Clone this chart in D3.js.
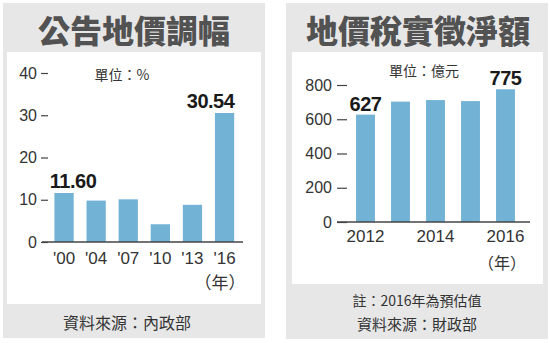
<!DOCTYPE html>
<html><head><meta charset="utf-8">
<script src="https://cdn.jsdelivr.net/npm/d3@7"></script>
<style>
html,body{margin:0;padding:0;background:#fff;}
svg{display:block;}
</style></head>
<body>
<script>
// ---- Left chart data ----
const leftTitle = "公告地價調幅";
const leftCategories = ["'00","'04","'07","'10","'13","'16"];
const leftValues = [11.60, 9.8, 10.1, 4.2, 8.8, 30.54];
const leftYTicks = [0, 10, 20, 30, 40];
const leftLabelled = ["11.60", null, null, null, null, "30.54"];
const leftUnit = "單位：%";
const leftSource = "資料來源：內政部";

// ---- Right chart data ----
const rightTitle = "地價稅實徵淨額";
const rightCategories = ["2012","2013","2014","2015","2016"];
const rightValues = [627, 703, 712, 706, 775];
const rightXTicks = ["2012","2014","2016"];
const rightYTicks = [0, 200, 400, 600, 800];
const rightLabelled = ["627", null, null, null, "775"];
const rightUnit = "單位：億元";
const rightNote = "註：2016年為預估值";
const rightSource = "資料來源：財政部";
const yearUnit = "（年）";

const W = 550, H = 343;
const BAR = "#72b2d4", PANEL = "#e7e7e7", TXT = "#333", TITLE = "#525252";
const CJK = "'Noto Sans CJK TC','Noto Sans CJK SC',sans-serif";
const NUM = "'Liberation Sans',Arial,sans-serif";

const svg = d3.select("body").append("svg").attr("width", W).attr("height", H);

function panel(x0, x1, yBottom, wx0, wx1, wy1) {
  svg.append("rect").attr("x", x0).attr("y", 3).attr("width", x1 - x0).attr("height", yBottom - 3).attr("fill", PANEL);
  svg.append("rect").attr("x", wx0).attr("y", 52).attr("width", wx1 - wx0).attr("height", wy1 - 52).attr("fill", "#fff");
}

// Panels
panel(3, 265, 338, 7, 261, 304);
panel(286, 548, 339, 292, 543, 284);

function title(text, cx) {
  svg.append("text").attr("x", cx).attr("y", 29).attr("text-anchor", "middle")
    .attr("dominant-baseline", "central")
    .style("font-family", CJK).style("font-weight", 900).style("font-size", "32px")
    .attr("fill", TITLE).text(text);
}
title(leftTitle, 134);
title(rightTitle, 418);

function cjkText(text, x, y, size, anchor) {
  svg.append("text").attr("x", x).attr("y", y).attr("text-anchor", anchor || "middle")
    .attr("dominant-baseline", "central")
    .style("font-family", CJK).style("font-size", size + "px").attr("fill", TXT).text(text);
}

// ---------- Left chart ----------
{
  const x = d3.scaleBand().domain(leftCategories).range([48, 240.6]).paddingInner(0.4).paddingOuter(0.2);
  const y = d3.scaleLinear().domain([0, 40]).range([242, 73]);
  const g = svg.append("g");
  g.selectAll("rect.bar").data(leftValues).join("rect").attr("class", "bar")
    .attr("x", (d, i) => x(leftCategories[i])).attr("width", x.bandwidth())
    .attr("y", d => y(d)).attr("height", d => y(0) - y(d)).attr("fill", BAR);
  g.append("line").attr("x1", 42).attr("x2", 243).attr("y1", y(0)).attr("y2", y(0))
    .attr("stroke", "#444").attr("stroke-width", 1.6);
  const ya = g.append("g").attr("transform", "translate(48,0)")
    .call(d3.axisLeft(y).tickValues(leftYTicks).tickSize(7).tickPadding(4));
  ya.select(".domain").remove();
  ya.selectAll("line").attr("stroke", "#444").attr("stroke-width", 1.2);
  ya.selectAll("text").style("font-family", NUM).style("font-size", "16px").attr("fill", TXT);
  const xa = g.append("g").attr("transform", "translate(0," + y(0) + ")")
    .call(d3.axisBottom(x).tickSize(0).tickPadding(10));
  xa.select(".domain").remove();
  xa.selectAll("text").style("font-family", NUM).style("font-size", "17px").attr("fill", TXT);
  const dxs = [9, 0, 0, 0, 0, -14];
  leftLabelled.forEach((lab, i) => {
    if (!lab) return;
    g.append("text").attr("x", x(leftCategories[i]) + x.bandwidth() / 2 + dxs[i])
      .attr("y", y(leftValues[i]) - 5).attr("text-anchor", "middle")
      .style("font-family", NUM).style("font-weight", "bold").style("font-size", "20px")
      .style("letter-spacing", "-0.5px").attr("fill", "#1a1a1a").text(lab);
  });
  cjkText(leftUnit, 122, 74, 14);
  cjkText(yearUnit, 220, 281, 17);
  cjkText(leftSource, 127, 322, 16);
}

// ---------- Right chart ----------
{
  const x = d3.scaleBand().domain(rightCategories).range([348, 523]).paddingInner(0.46).paddingOuter(0.23);
  const y = d3.scaleLinear().domain([0, 800]).range([222, 85]);
  const g = svg.append("g");
  g.selectAll("rect.bar").data(rightValues).join("rect").attr("class", "bar")
    .attr("x", (d, i) => x(rightCategories[i])).attr("width", x.bandwidth())
    .attr("y", d => y(d)).attr("height", d => y(0) - y(d)).attr("fill", BAR);
  g.append("line").attr("x1", 337).attr("x2", 530).attr("y1", y(0)).attr("y2", y(0))
    .attr("stroke", "#444").attr("stroke-width", 1.6);
  const ya = g.append("g").attr("transform", "translate(347,0)")
    .call(d3.axisLeft(y).tickValues(rightYTicks).tickSize(10).tickPadding(5));
  ya.select(".domain").remove();
  ya.selectAll("line").attr("stroke", "#444").attr("stroke-width", 1.2);
  ya.selectAll("text").style("font-family", NUM).style("font-size", "16px").attr("fill", TXT);
  const xa = g.append("g").attr("transform", "translate(0," + y(0) + ")")
    .call(d3.axisBottom(x).tickValues(rightXTicks).tickSize(0).tickPadding(8));
  xa.select(".domain").remove();
  xa.selectAll("text").style("font-family", NUM).style("font-size", "17px").attr("fill", TXT);
  rightLabelled.forEach((lab, i) => {
    if (!lab) return;
    g.append("text").attr("x", x(rightCategories[i]) + x.bandwidth() / 2)
      .attr("y", y(rightValues[i]) - 4).attr("text-anchor", "middle")
      .style("font-family", NUM).style("font-weight", "bold").style("font-size", "20px")
      .style("letter-spacing", "-0.5px").attr("fill", "#1a1a1a").text(lab);
  });
  cjkText(rightUnit, 424, 70, 14);
  cjkText(yearUnit, 502, 262, 16);
  cjkText(rightNote, 417, 300, 14);
  cjkText(rightSource, 417, 323, 15);
}
</script>
</body></html>
